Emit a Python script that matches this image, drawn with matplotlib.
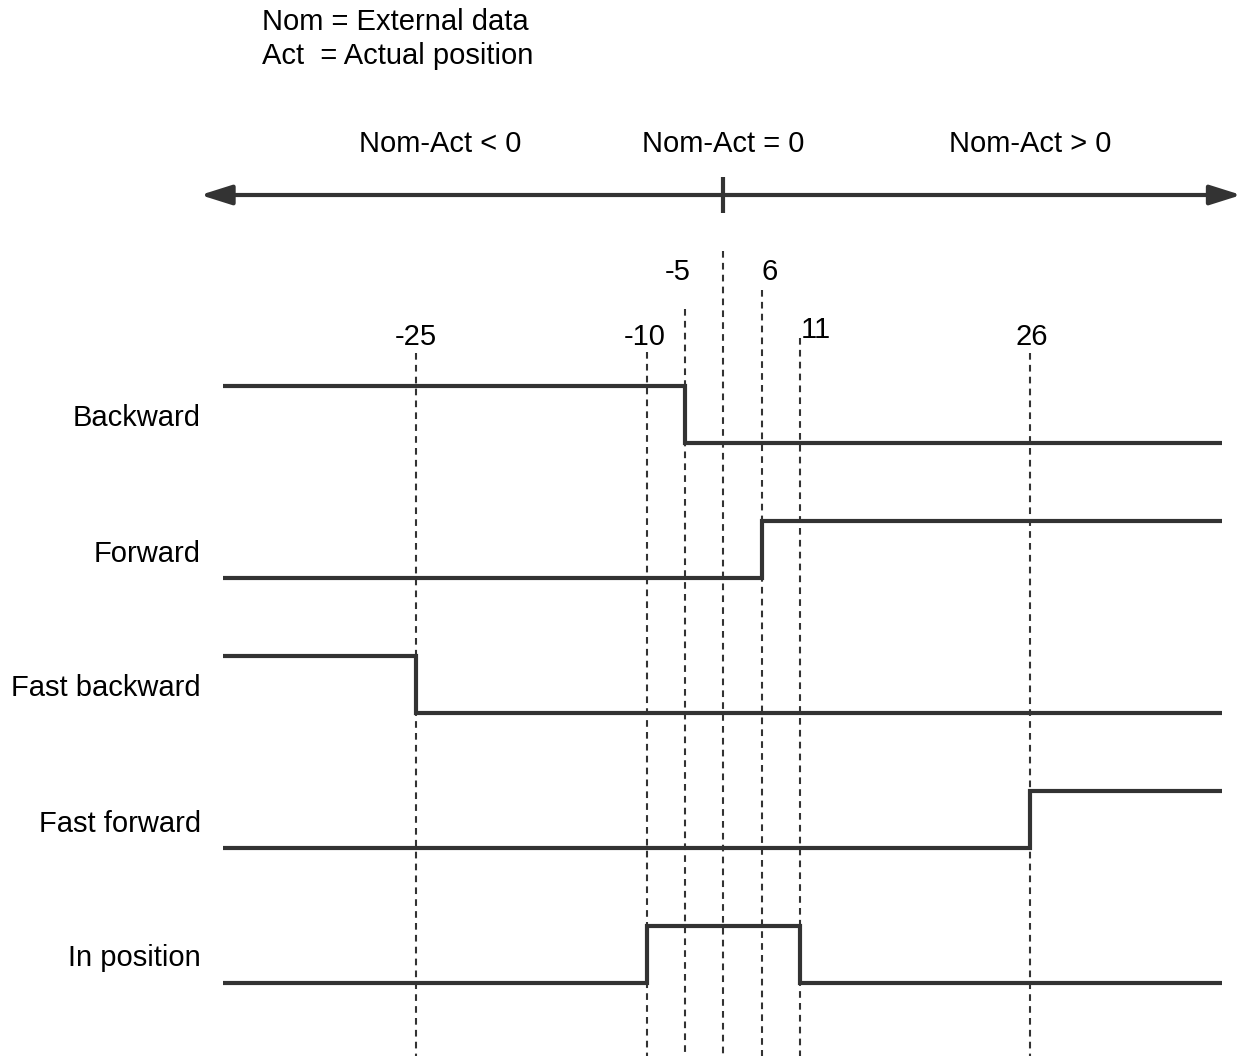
import matplotlib.pyplot as plt
import numpy as np

plt.rcParams['font.family'] = ['Liberation Sans', 'DejaVu Sans']

# signals and their switching points (Nom - Act)
signals = ["Backward", "Forward", "Fast backward", "Fast forward", "In position"]
start_level = [1, 0, 1, 0, 0]
switch_at = [[-5], [6], [-25], [26], [-10, 11]]

thresholds = [-25, -10, -5, 0, 6, 11, 26]
threshold_labels = ["-25", "-10", "-5", "", "6", "11", "26"]

regions = ["Nom-Act < 0", "Nom-Act = 0", "Nom-Act > 0"]
region_at = [-23.4, 0, 26]

legend_lines = ["Nom = External data", "Act  = Actual position"]

# schematic (non-linear) x layout: value -> pixel
anchor_val = [-52, -25, -10, -5, 0, 6, 11, 26, 39.8]
anchor_pos = [0, 416, 647, 685, 723, 762, 800, 1030, 1242]


def fwd(v):
    return np.interp(v, anchor_val, anchor_pos)


def inv(p):
    return np.interp(p, anchor_pos, anchor_val)


col = '#333333'
fig = plt.figure(figsize=(12.42, 10.56), dpi=100)
ax = fig.add_axes([0, 0, 1, 1])
ax.set_xscale('function', functions=(fwd, inv))
ax.set_xlim(-52, 39.8)
ax.set_ylim(1056, 0)
ax.axis('off')

x_start, x_end = -37.5, 38.5
row_low = 443
row_gap = 135
step = 57

for i, name in enumerate(signals):
    low = row_low + i * row_gap
    lvl = start_level[i]
    xs = [x_start]
    ys = [lvl]
    for s in switch_at[i]:
        xs += [s, s]
        ys += [lvl, 1 - lvl]
        lvl = 1 - lvl
    xs.append(x_end)
    ys.append(lvl)
    ax.plot(xs, [low - step * y for y in ys], color=col, lw=3,
            solid_joinstyle='miter', solid_capstyle='butt')
    ax.text(inv(201), low - step / 2 + 4, name, ha='right', va='center',
            fontsize=21, color='black')

# dashed guides and labels
line_top = [353, 352, 309, 251, 290, 338, 353]
label_pos = [(416, 337), (645, 337), (678, 272), (0, 0), (770, 272),
             (816, 330), (1032, 337)]
for t, top, lab, (lx, ly) in zip(thresholds, line_top, threshold_labels, label_pos):
    ax.plot([t, t], [top, 1056], color=col, lw=1.5, ls=(0, (3.2, 2.5)))
    if lab:
        ax.text(inv(lx), ly, lab, ha='center', va='center', fontsize=21,
                color='black')

# axis arrow
ax.annotate('', xy=(-39.0, 195), xytext=(39.75, 195),
            arrowprops=dict(arrowstyle='<|-|>,head_length=1.9,head_width=0.6',
                            mutation_scale=10, color=col, lw=3,
                            shrinkA=0, shrinkB=0))
ax.plot([0, 0], [177, 213], color=col, lw=3, solid_capstyle='butt')

for r, x in zip(regions, region_at):
    ax.text(x, 144, r, ha='center', va='center', fontsize=21, color='black')

for k, s in enumerate(legend_lines):
    ax.text(inv(262), 22 + 34 * k, s, ha='left', va='center', fontsize=21,
            color='black')

fig.savefig('out.png', dpi=100)
